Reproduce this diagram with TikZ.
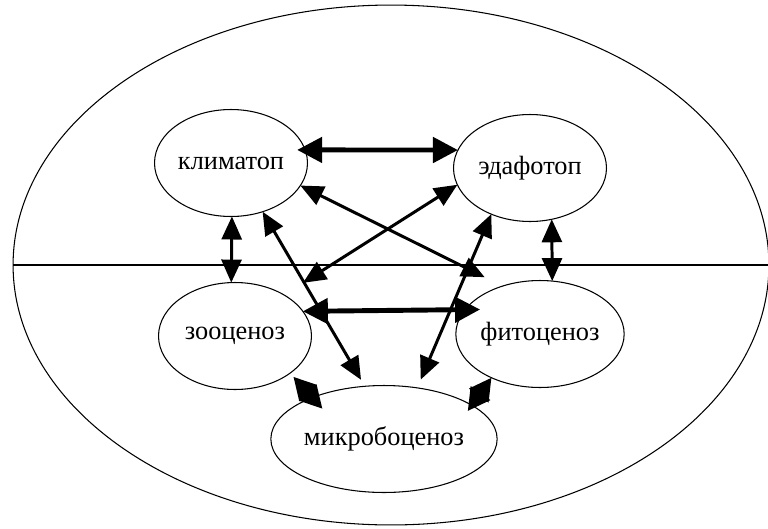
\documentclass[tikz,border=0pt]{standalone}
\usepackage{fontspec}
\setmainfont{Liberation Serif}
\usetikzlibrary{shapes.geometric,arrows.meta}

\begin{document}
\begin{tikzpicture}[x=0.02cm,y=-0.02cm,
  zone/.style={ellipse,draw,line width=0.6pt,inner sep=0pt,outer sep=0pt,
    minimum width=3.06cm,minimum height=2.14cm,font=\fontsize{15}{18}\selectfont},
  link/.style={line width=1.7pt,
    {Triangle[length=0.46cm,width=0.4cm]}-{Triangle[length=0.46cm,width=0.4cm]}},
  widelink/.style={line width=2.8pt,
    {Triangle[length=0.5cm,width=0.5cm]}-{Triangle[length=0.5cm,width=0.5cm]}},
  shortlink/.style={line width=2.4pt,
    {Triangle[length=0.44cm,width=0.46cm]}-{Triangle[length=0.44cm,width=0.46cm]}}]

  \useasboundingbox (0,0) rectangle (768,528);

  \node[zone,minimum width=15.12cm,minimum height=10.4cm] (bgc) at (391,265) {};
  \draw[line width=0.6pt] (bgc.west) -- (bgc.east);

  \node[zone] (klim) at (231,163) {климатоп};
  \node[zone] (edaf) at (530,168) {эдафотоп};
  \node[zone] (zoo) at (235,336) {зооценоз};
  \node[zone] (fito) at (540,334) {фитоценоз};
  \node[zone,minimum width=3.7cm] (mikro) at (384,439) {микробоценоз};

  \draw[widelink,shorten <=-0.16cm] (klim.10) -- (edaf.166);
  \draw[widelink,shorten >=-0.3cm] (zoo.20) -- (fito.162);

  \draw[link] (klim.-89) -- (zoo.94);
  \draw[link] (edaf.-67) -- (fito.77);
  \draw[link,shorten >=0.4cm] (klim.-18) -- (fito.128);
  \draw[link,shorten >=0.45cm] (edaf.193) -- (zoo.40);
  \draw[link,shorten >=0.15cm] (klim.-57) -- (mikro.110);
  \draw[link,shorten >=0.18cm] (edaf.230) -- (mikro.57);

  \draw[shortlink,shorten <=0.1cm,shorten >=-0.3cm] (zoo.-34) -- (mikro.150);
  \draw[shortlink,shorten >=-0.14cm] (fito.222) -- (mikro.21);
\end{tikzpicture}
\end{document}
